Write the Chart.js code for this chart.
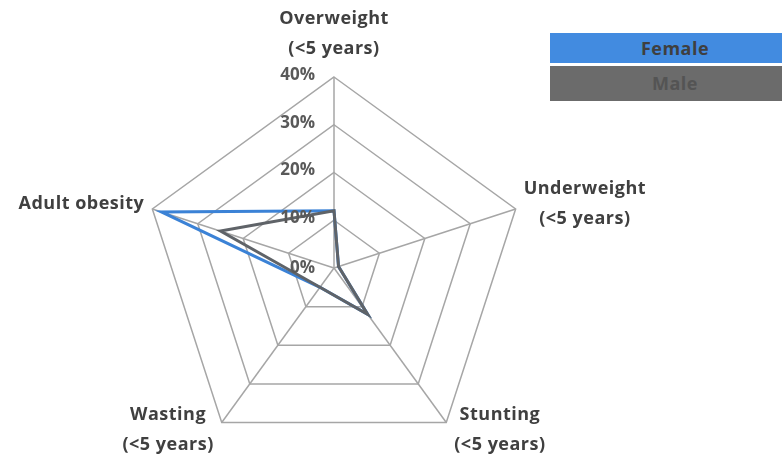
<!DOCTYPE html>
<html>
<head>
<meta charset="utf-8">
<script src="https://cdn.jsdelivr.net/npm/chart.js@4/dist/chart.umd.min.js"></script>
<style>
  html, body { margin: 0; padding: 0; background: #fff; overflow: hidden; }
  #wrap { position: relative; width: 782px; height: 463px; }
  #radar { position: absolute; left: 0; top: 0; }
  .key { position: absolute; left: 550px; width: 250px; text-align: center;
         font: bold 18px "Open Sans", sans-serif; letter-spacing: 0.5px; }
  #kf { top: 33px; height: 30px; line-height: 30px; background: #428be0; color: #3f3f3f; }
  #km { top: 66px; height: 35px; line-height: 35px; background: #6b6b6b; color: #545454; }
</style>
</head>
<body>
<div id="wrap">
  <canvas id="radar" width="782" height="463"></canvas>
  <div class="key" id="kf">Female</div>
  <div class="key" id="km">Male</div>
</div>
<script>
// categories (axes), clockwise from the top
const categories = [
  ['Overweight', '(<5 years)'],
  ['Underweight', '(<5 years)'],
  ['Stunting', '(<5 years)'],
  ['Wasting', '(<5 years)'],
  ['Adult obesity']
];
const femaleValues = [12, 1, 12, 5, 38];
const maleValues = [12, 1, 12, 5, 25];
const tickValues = [0, 10, 20, 30, 40];

let labelFont = 'bold 18px "Open Sans", sans-serif';
let tickFont = 'bold 17px "Open Sans", sans-serif';

// draws the axis names and the % ticks like the original (excel style)
const customLabels = {
  id: 'customLabels',
  afterDatasetsDraw(chart) {
    const scale = chart.scales.r;
    const ctx = chart.ctx;
    ctx.save();

    // tick labels, right aligned just left of the vertical axis
    ctx.font = tickFont;
    ctx.fillStyle = '#595959';
    ctx.textAlign = 'right';
    ctx.textBaseline = 'middle';
    tickValues.forEach(v => {
      let d = scale.getDistanceFromCenterForValue(v);
      ctx.fillText(v + '%', scale.xCenter - 19, scale.yCenter - d - (v > 0 ? 2 : 0));
    });

    // point labels
    ctx.font = labelFont;
    ctx.letterSpacing = '0.5px';
    ctx.fillStyle = '#404040';
    ctx.textAlign = 'center';
    const lineH = 30;
    categories.forEach((lines, i) => {
      let p = scale.getPointPosition(i, scale.drawingArea);
      let w = Math.max(...lines.map(t => ctx.measureText(t).width));
      let cx, y0;
      if (Math.abs(p.x - scale.xCenter) < 2) {
        cx = p.x;
        y0 = p.y - 28 - (lines.length - 1) * lineH;
      } else if (p.x > scale.xCenter) {
        cx = p.x + 8 + w / 2;
      } else {
        cx = p.x - 8 - w / 2;
      }
      if (y0 === undefined) {
        if (p.y > scale.yCenter + 20) {
          y0 = p.y - 8;
        } else {
          y0 = p.y - 5 - (lines.length - 1) * lineH / 2;
        }
      }
      lines.forEach((t, k) => ctx.fillText(t, cx, y0 + k * lineH));
    });
    ctx.restore();
  }
};

let ctx = document.getElementById('radar').getContext('2d');
let myChart = new Chart(ctx, {
  type: 'radar',
  data: {
    labels: categories,
    datasets: [{
      label: 'Female',
      data: femaleValues,
      borderColor: '#3b82d6',
      borderWidth: 3,
      fill: false,
      pointRadius: 0,
      order: 1
    }, {
      label: 'Male',
      data: maleValues,
      borderColor: '#5f6368',
      borderWidth: 3,
      fill: false,
      pointRadius: 0,
      order: 0
    }]
  },
  options: {
    responsive: false,
    animation: false,
    layout: {
      padding: { left: 143, right: 257, top: 77, bottom: 4 }
    },
    plugins: {
      legend: { display: false },
      tooltip: { enabled: false }
    },
    scales: {
      r: {
        min: 0,
        max: 40,
        ticks: { stepSize: 10, display: false },
        grid: { color: '#a6a6a6', lineWidth: 1.5 },
        angleLines: { color: '#a6a6a6', lineWidth: 1.5 },
        pointLabels: { display: false }
      }
    }
  },
  plugins: [customLabels]
});
</script>
</body>
</html>
